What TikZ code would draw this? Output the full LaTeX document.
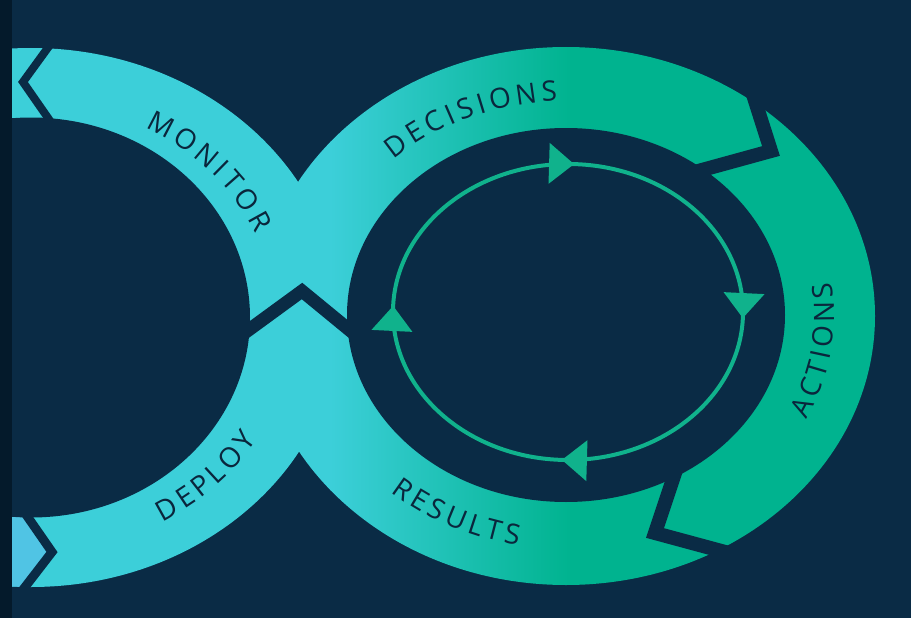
\documentclass[tikz,border=0pt]{standalone}
\usepackage{fontspec}
\setmainfont{Open Sans}
\newfontfamily\labelfont{Open Sans}
\newcommand\bandfont{\labelfont\fontsize{28}{33}\selectfont\kern4.2pt}
\usetikzlibrary{arrows.meta, decorations.markings, decorations.text}

\definecolor{bgnavy}{RGB}{10,43,69}
\definecolor{edgenavy}{RGB}{4,26,43}
\definecolor{bandcyan}{RGB}{60,207,217}
\definecolor{bandgreen}{RGB}{0,179,143}
\definecolor{bandblue}{RGB}{80,196,228}
\definecolor{ringgreen}{RGB}{16,178,140}
\definecolor{textnavy}{RGB}{10,38,60}

\begin{document}
\begin{tikzpicture}[x=1pt, y=1pt,
    gap/.style={draw=bgnavy, line width=#1, line join=miter},
    ring/.style={draw=ringgreen, line width=4,
        postaction={decorate, decoration={markings,
            mark=between positions 0.006 and 1 step 0.25 with {\arrow[ringgreen]{Triangle[length=25pt, width=40pt]}}}}},
    bandlabel/.style={decorate, decoration={text along path, text align=center,
        text color=textnavy, text={|\bandfont|#1}}}]

    \useasboundingbox (0,0) rectangle (911,-618);
    \fill[bgnavy] (0,0) rectangle (911,-618);

    \coordinate (lc) at (31,-317.5);   % left loop
    \coordinate (rc) at (566,-316);    % right loop
    \coordinate (ic) at (568,-312);    % inner ring

    % the band: both loops, cyan into green
    \begin{scope}
        \clip (lc) ellipse [x radius=309, y radius=269.5] (rc) ellipse [x radius=309, y radius=269];
        \fill[bandcyan] (0,0) rectangle (331,-618);
        \shade[left color=bandcyan, right color=bandgreen] (330,0) rectangle (571,-618);
        \fill[bandgreen] (570,0) rectangle (911,-618);
        \fill[bandblue] (0,-490) -- (20,-500) -- (52,-552) -- (17,-605) -- (0,-605) -- cycle;
    \end{scope}
    \fill[bgnavy] (lc) ellipse [x radius=219, y radius=200];
    \fill[bgnavy] (566,-315) ellipse [x radius=219, y radius=187];

    % chevron gaps between the segments
    \draw[gap=8] (55,-38) -- (23,-82) -- (55,-128);
    \draw[gap=9] (18,-503) -- (52,-552) -- (15,-600);
    \draw[gap=13] (239,-337) -- (302,-291) -- (358,-337);
    \draw[gap=14] (750,-85) -- (771,-151) -- (680,-176);
    \draw[gap=14] (680,-458) -- (655,-533) -- (740,-556);

    \fill[edgenavy] (0,0) rectangle (12,-618);

    % inner cycle
    \draw[ring] (ic) ++(0:175 and 148) arc[start angle=0, end angle=-360, x radius=175, y radius=148];

    % labels along the band
    \path[bandlabel=MONITOR] (lc) ++(82:244 and 215) arc[start angle=82, end angle=2, x radius=244, y radius=215];
    \path[bandlabel=DEPLOY] (lc) ++(-85:264 and 236) arc[start angle=-85, end angle=-5, x radius=264, y radius=236];
    \path[bandlabel=DECISIONS] (rc) ++(154:251 and 215) arc[start angle=154, end angle=74, x radius=251, y radius=215];
    \path[bandlabel=ACTIONS] (rc) ++(-49:268 and 232) arc[start angle=-49, end angle=31, x radius=268, y radius=232];
    \path[bandlabel=RESULTS] (rc) ++(-157:269 and 233) arc[start angle=-157, end angle=-77, x radius=269, y radius=233];
\end{tikzpicture}
\end{document}
